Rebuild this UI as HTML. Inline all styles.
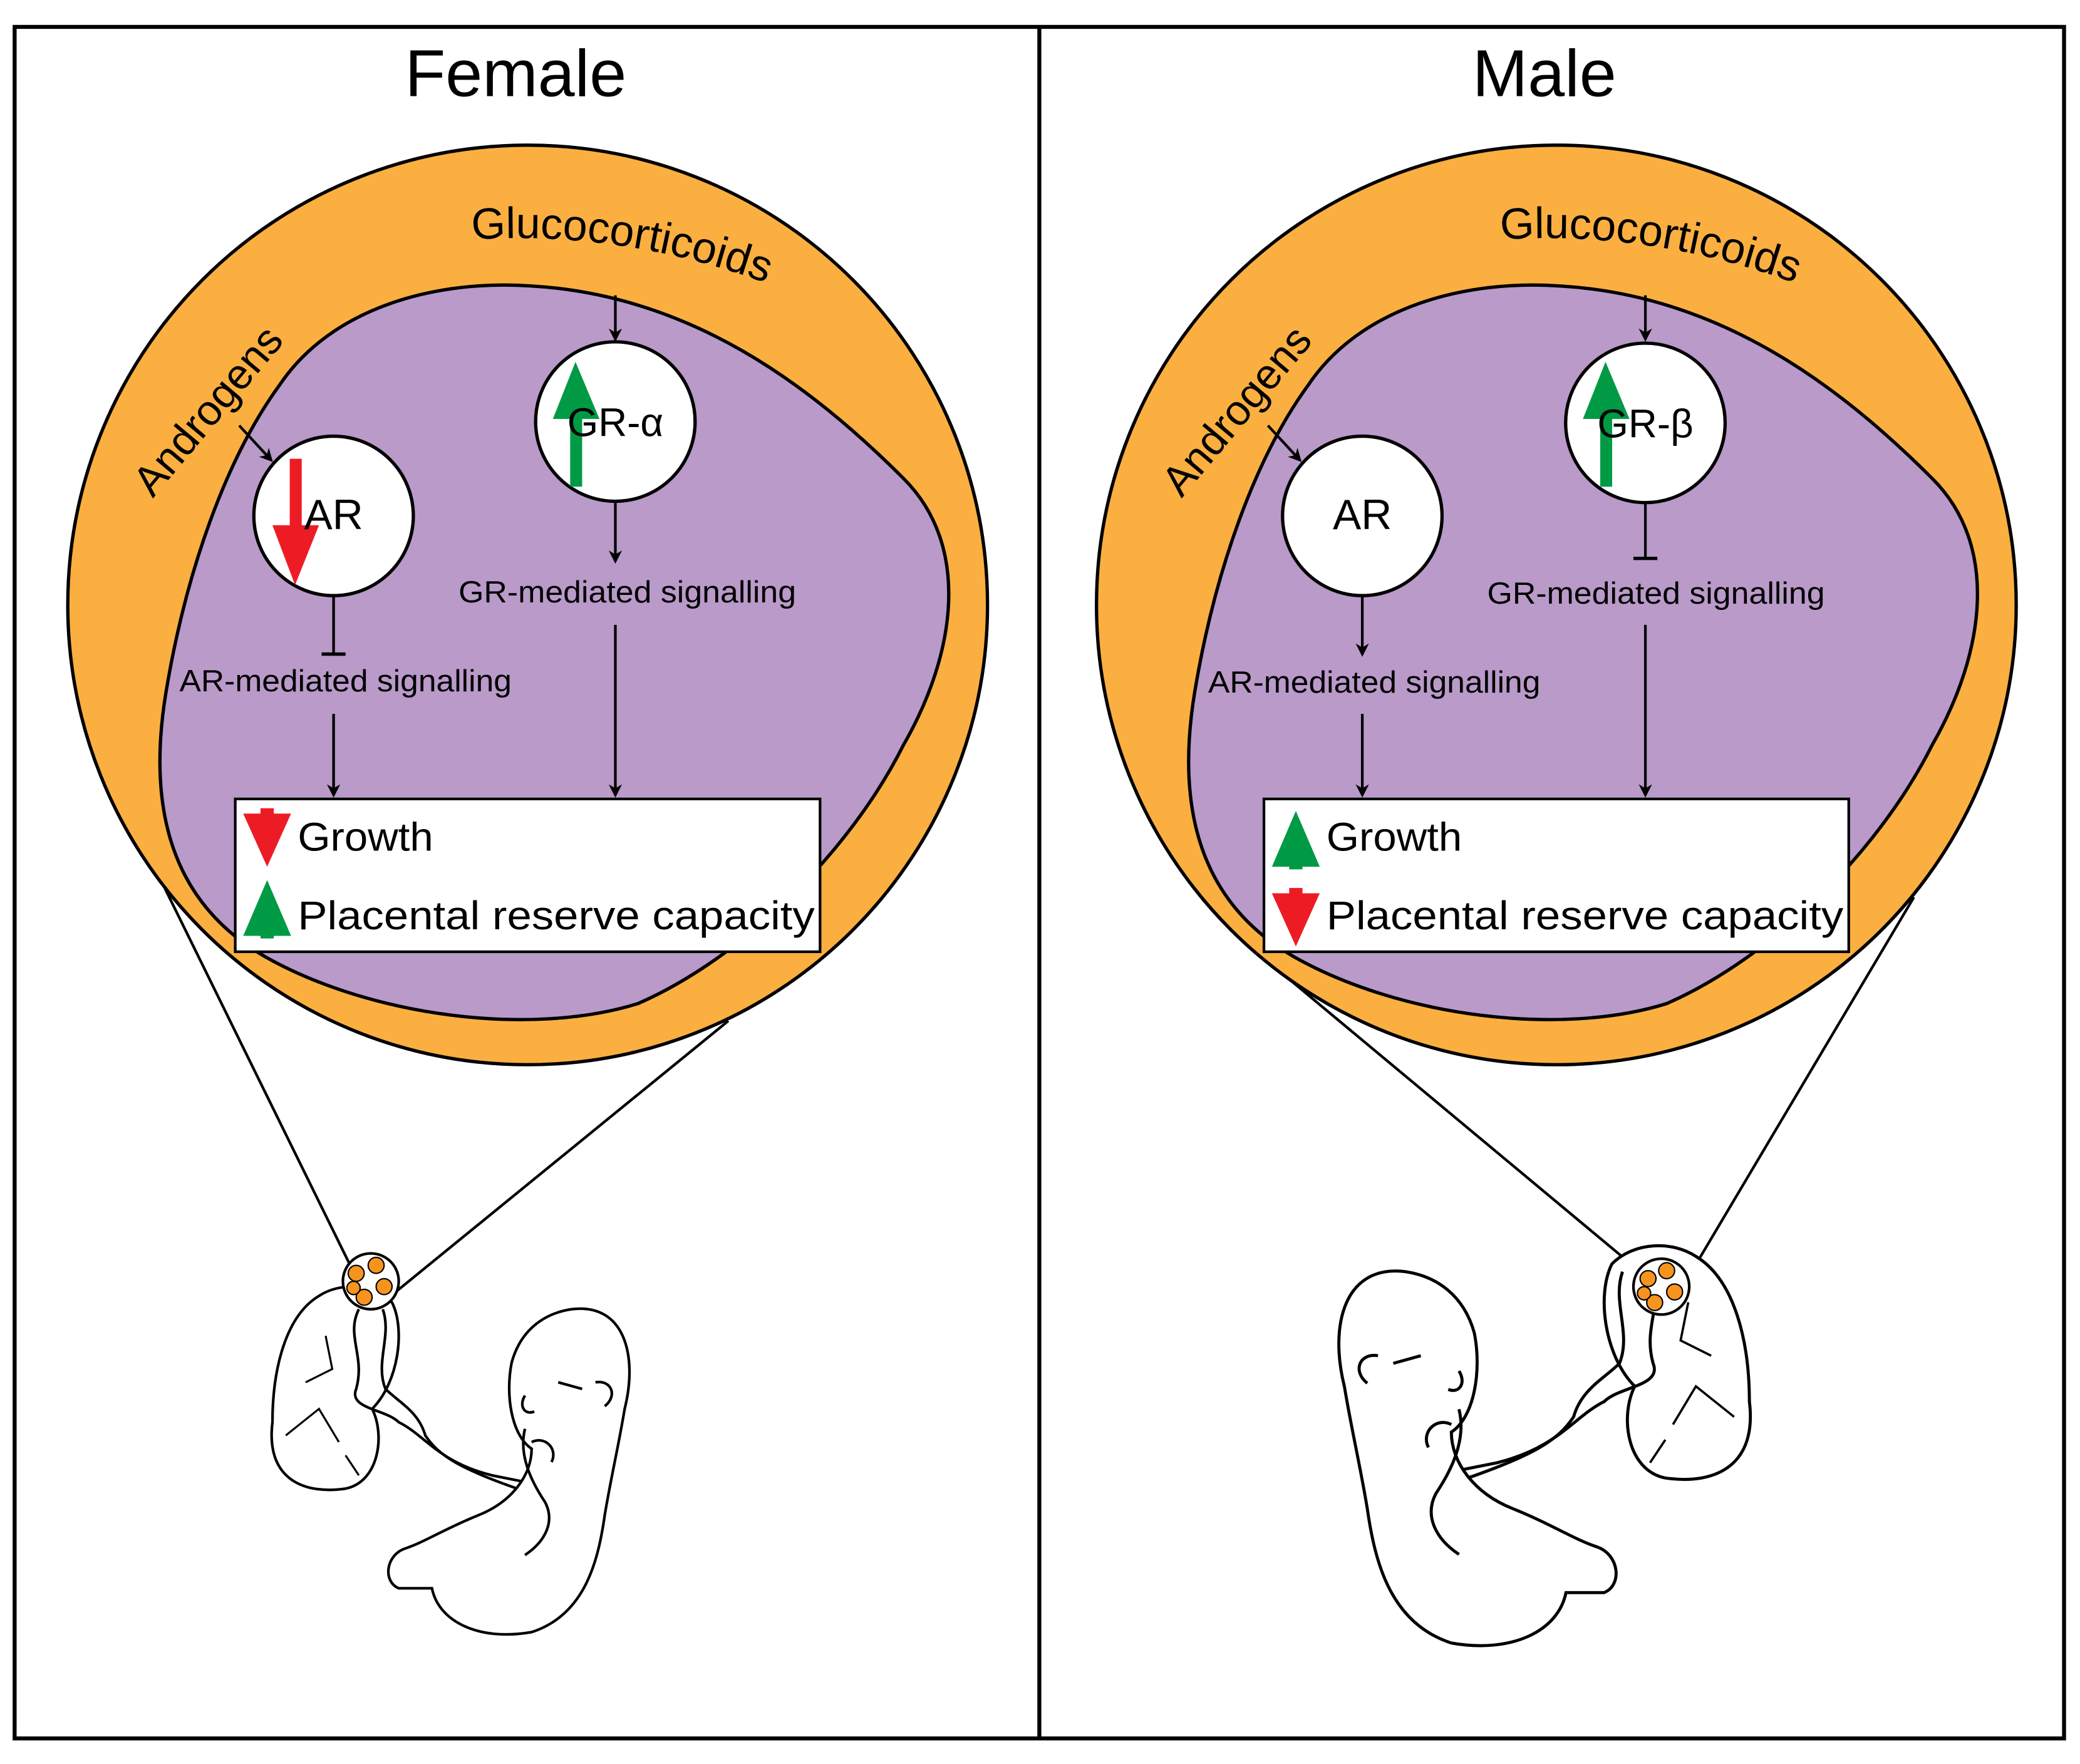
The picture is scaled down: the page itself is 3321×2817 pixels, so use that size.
<!DOCTYPE html>
<html><head><meta charset="utf-8"><style>
html,body{margin:0;padding:0;background:#fff;overflow:hidden}
svg{display:block}
text{font-family:"Liberation Sans",Arial,sans-serif;fill:#000}
</style></head><body>
<svg width="3321" height="2817" viewBox="0 0 1565 1327" xmlns="http://www.w3.org/2000/svg">
<defs>
<marker id="ah" markerWidth="10" markerHeight="10" refX="8" refY="5" orient="auto" markerUnits="userSpaceOnUse">
<path d="M0,0 L10,5 L0,10 L3,5 Z" fill="#000"/></marker>
<path id="gcF" d="M355,180 Q480,172 600,222" fill="none"/>
<path id="gcM" d="M1129,180 Q1254,172 1374,222" fill="none"/>
<g id="fetusF" fill="#fff" stroke="#000" stroke-width="2">
<path d="M240,975 C215,990 205,1030 205,1070 C200,1110 225,1125 260,1120 C285,1115 290,1080 280,1060 C300,1040 305,1000 295,980 C280,965 255,965 240,975 Z"/>
<path d="M215,1080 L240,1060 L255,1085 M230,1040 L250,1030 L245,1005 M260,1095 L270,1110" fill="none" stroke-width="1.5"/>
<path d="M270,985 C260,1005 275,1020 268,1045 C262,1060 290,1060 300,1070 C320,1080 330,1100 370,1110 L395,1115" fill="none"/>
<path d="M288,985 C295,1005 282,1025 290,1045 C300,1055 315,1062 320,1080 C330,1095 345,1105 395,1122" fill="none"/>
<path d="M430,985 C470,980 480,1020 470,1060 C465,1090 460,1110 455,1140 C450,1175 440,1215 400,1228 C360,1235 330,1220 325,1195 L300,1195 C288,1190 290,1170 305,1165 C320,1160 335,1150 360,1140 C385,1130 400,1110 400,1090 C385,1080 380,1050 385,1025 C392,1000 410,988 430,985 Z"/>
<path d="M395,1075 C390,1095 400,1115 410,1130 C418,1145 410,1160 395,1170" fill="none"/>
<path d="M400,1085 C410,1080 420,1090 415,1100" fill="none"/>
<path d="M448,1040 C460,1038 465,1050 455,1058" fill="none"/>
<path d="M420,1040 L438,1045" fill="none"/>
<path d="M395,1050 C390,1058 395,1065 402,1062" fill="none"/>
</g>
</defs>
<rect x="11" y="20" width="1542" height="1288" fill="#fff" stroke="#000" stroke-width="3"/>
<line x1="782" y1="20" x2="782" y2="1308" stroke="#000" stroke-width="3"/>
<text x="388" y="72" font-size="50" text-anchor="middle">Female</text>
<text x="1162" y="72" font-size="50" text-anchor="middle">Male</text>

<!-- FEMALE -->
<line x1="120" y1="660" x2="265" y2="955" stroke="#000" stroke-width="2"/>
<line x1="548" y1="768" x2="294" y2="975" stroke="#000" stroke-width="2"/>
<circle cx="397" cy="455" r="346" fill="#faaf40" stroke="#000" stroke-width="2.5"/>
<path d="M210,290 C250,230 330,210 400,215 C520,222 610,290 680,360 C730,410 720,490 680,560 C640,640 560,720 480,755 C400,780 280,765 200,720 C130,680 110,610 125,520 C140,430 170,345 210,290 Z" fill="#b99ac9" stroke="#000" stroke-width="2.5"/>
<text font-size="33"><textPath href="#gcF">Glucocorticoids</textPath></text>
<text x="0" y="0" font-size="32" transform="translate(115,375) rotate(-50)">Androgens</text>
<line x1="180" y1="320" x2="204" y2="346" stroke="#000" stroke-width="2" marker-end="url(#ah)"/>
<line x1="463" y1="222" x2="463" y2="255" stroke="#000" stroke-width="2" marker-end="url(#ah)"/>
<circle cx="251" cy="388" r="60" fill="#fff" stroke="#000" stroke-width="2.5"/>
<circle cx="463" cy="317" r="60" fill="#fff" stroke="#000" stroke-width="2.5"/>
<rect x="218" y="345" width="9" height="55" fill="#ed1c24"/><path d="M205,395 L240,395 L222,440 Z" fill="#ed1c24"/>
<rect x="429" y="310" width="9" height="56" fill="#009a44"/><path d="M416,315 L451,315 L433,272 Z" fill="#009a44"/>
<text x="251" y="398" font-size="32" text-anchor="middle">AR</text>
<text x="463" y="328" font-size="30" text-anchor="middle">GR-α</text>
<line x1="251" y1="448" x2="251" y2="492" stroke="#000" stroke-width="2"/><line x1="242" y1="492" x2="260" y2="492" stroke="#000" stroke-width="2.5"/>
<text x="135" y="520" font-size="23" textLength="250" lengthAdjust="spacingAndGlyphs">AR-mediated signalling</text>
<line x1="251" y1="537" x2="251" y2="598" stroke="#000" stroke-width="2" marker-end="url(#ah)"/>
<line x1="463" y1="378" x2="463" y2="422" stroke="#000" stroke-width="2" marker-end="url(#ah)"/>
<text x="345" y="453" font-size="23" textLength="254" lengthAdjust="spacingAndGlyphs">GR-mediated signalling</text>
<line x1="463" y1="470" x2="463" y2="598" stroke="#000" stroke-width="2" marker-end="url(#ah)"/>
<rect x="177" y="601" width="440" height="115" fill="#fff" stroke="#000" stroke-width="2"/>
<rect x="196" y="608" width="10" height="12" fill="#ed1c24"/><path d="M183,612 L219,612 L201,652 Z" fill="#ed1c24"/>
<rect x="196" y="692" width="10" height="14" fill="#009a44"/><path d="M183,704 L219,704 L201,662 Z" fill="#009a44"/>
<text x="224" y="640" font-size="30" textLength="102" lengthAdjust="spacingAndGlyphs">Growth</text>
<text x="224" y="699" font-size="30" textLength="389" lengthAdjust="spacingAndGlyphs">Placental reserve capacity</text>
<use href="#fetusF"/>
<circle cx="279" cy="964" r="21" fill="#fff" stroke="#000" stroke-width="2"/>
<g fill="#f7941d" stroke="#000" stroke-width="1"><circle cx="268" cy="958" r="6"/><circle cx="283" cy="952" r="6"/><circle cx="289" cy="968" r="6"/><circle cx="274" cy="976" r="6"/><circle cx="266" cy="969" r="5"/></g>

<!-- MALE -->
<line x1="950" y1="720" x2="1238" y2="960" stroke="#000" stroke-width="2"/>
<line x1="1440" y1="675" x2="1272" y2="958" stroke="#000" stroke-width="2"/>
<circle cx="1171" cy="455" r="346" fill="#faaf40" stroke="#000" stroke-width="2.5"/>
<path d="M984,290 C1024,230 1104,210 1174,215 C1294,222 1384,290 1454,360 C1504,410 1494,490 1454,560 C1414,640 1334,720 1254,755 C1174,780 1054,765 974,720 C904,680 884,610 899,520 C914,430 944,345 984,290 Z" fill="#b99ac9" stroke="#000" stroke-width="2.5"/>
<text font-size="33"><textPath href="#gcM">Glucocorticoids</textPath></text>
<text x="0" y="0" font-size="32" transform="translate(889,375) rotate(-50)">Androgens</text>
<line x1="954" y1="320" x2="978" y2="346" stroke="#000" stroke-width="2" marker-end="url(#ah)"/>
<line x1="1238" y1="222" x2="1238" y2="255" stroke="#000" stroke-width="2" marker-end="url(#ah)"/>
<circle cx="1025" cy="388" r="60" fill="#fff" stroke="#000" stroke-width="2.5"/>
<circle cx="1238" cy="318" r="60" fill="#fff" stroke="#000" stroke-width="2.5"/>
<rect x="1204" y="310" width="9" height="56" fill="#009a44"/><path d="M1191,315 L1226,315 L1208,272 Z" fill="#009a44"/>
<text x="1025" y="398" font-size="32" text-anchor="middle">AR</text>
<text x="1238" y="329" font-size="30" text-anchor="middle">GR-β</text>
<line x1="1025" y1="448" x2="1025" y2="492" stroke="#000" stroke-width="2" marker-end="url(#ah)"/>
<text x="909" y="521" font-size="23" textLength="250" lengthAdjust="spacingAndGlyphs">AR-mediated signalling</text>
<line x1="1025" y1="537" x2="1025" y2="598" stroke="#000" stroke-width="2" marker-end="url(#ah)"/>
<line x1="1238" y1="378" x2="1238" y2="420" stroke="#000" stroke-width="2"/><line x1="1229" y1="420" x2="1247" y2="420" stroke="#000" stroke-width="2.5"/>
<text x="1119" y="454" font-size="23" textLength="254" lengthAdjust="spacingAndGlyphs">GR-mediated signalling</text>
<line x1="1238" y1="470" x2="1238" y2="598" stroke="#000" stroke-width="2" marker-end="url(#ah)"/>
<rect x="951" y="601" width="440" height="115" fill="#fff" stroke="#000" stroke-width="2"/>
<rect x="970" y="640" width="10" height="14" fill="#009a44"/><path d="M957,652 L993,652 L975,610 Z" fill="#009a44"/>
<rect x="970" y="668" width="10" height="12" fill="#ed1c24"/><path d="M957,672 L993,672 L975,712 Z" fill="#ed1c24"/>
<text x="998" y="640" font-size="30" textLength="102" lengthAdjust="spacingAndGlyphs">Growth</text>
<text x="998" y="699" font-size="30" textLength="389" lengthAdjust="spacingAndGlyphs">Placental reserve capacity</text>
<use href="#fetusF" transform="translate(1552,-176) scale(-1.15,1.15)"/>
<circle cx="1250" cy="968" r="21" fill="#fff" stroke="#000" stroke-width="2"/>
<g fill="#f7941d" stroke="#000" stroke-width="1"><circle cx="1240" cy="962" r="6"/><circle cx="1254" cy="956" r="6"/><circle cx="1260" cy="972" r="6"/><circle cx="1245" cy="980" r="6"/><circle cx="1237" cy="973" r="5"/></g>
</svg>
</body></html>
